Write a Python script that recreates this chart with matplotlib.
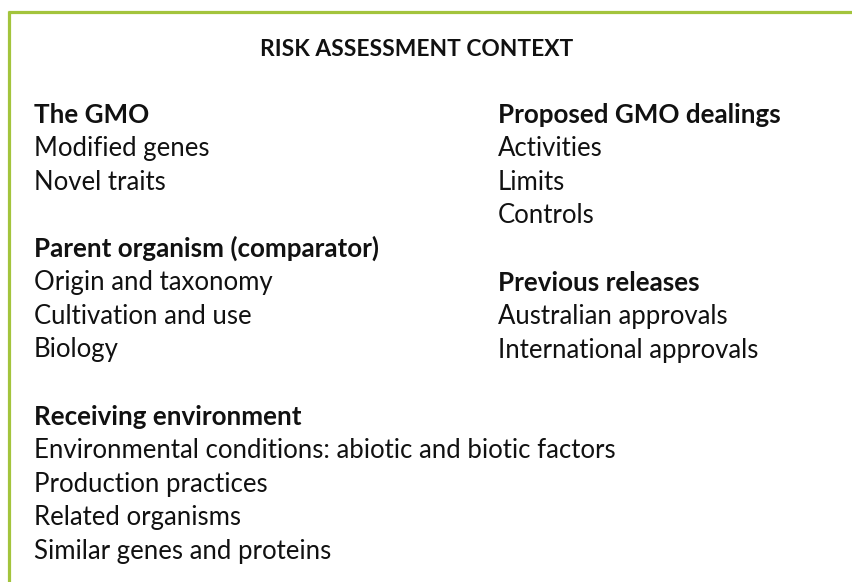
import matplotlib
matplotlib.use("Agg")
import matplotlib.pyplot as plt

title = "RISK ASSESSMENT CONTEXT"
left_sections = [
    ("The GMO", ["Modified genes", "Novel traits"]),
    ("Parent organism (comparator)", ["Origin and taxonomy", "Cultivation and use", "Biology"]),
    ("Receiving environment", ["Environmental conditions: abiotic and biotic factors",
                               "Production practices", "Related organisms",
                               "Similar genes and proteins"]),
]
right_sections = [
    ("Proposed GMO dealings", ["Activities", "Limits", "Controls"]),
    ("Previous releases", ["Australian approvals", "International approvals"]),
]

W, H = 852, 582
FONT = "Lato"
fig = plt.figure(figsize=(W / 100, H / 100), dpi=100)
ax = fig.add_axes([0, 0, 1, 1])
ax.set_xlim(0, W)
ax.set_ylim(H, 0)
ax.axis("off")

renderer = fig.canvas.get_renderer()


def fit_size(text, weight, target_px):
    t = ax.text(0, 0, text, fontsize=10, fontweight=weight, family=FONT)
    w = t.get_window_extent(renderer=renderer).width
    t.remove()
    return 10 * target_px / w


reg_size = fit_size("Environmental conditions: abiotic and biotic factors", "normal", 582)
bold_size = fit_size("Parent organism (comparator)", "bold", 345)
title_size = fit_size(title, "bold", 312)

green = "#a3c43c"
ax.plot([8, W], [12, 12], color=green, lw=2.3, solid_capstyle="butt")
ax.plot([9, 9], [11, H], color=green, lw=2.3, solid_capstyle="butt")

ax.text(417, 56, title, fontsize=title_size, fontweight="bold", family=FONT,
        ha="center", va="baseline", color="#111111")

line_h = 33.4


def draw(sections, x, starts):
    for (head, items), y0 in zip(sections, starts):
        ax.text(x, y0, head, fontsize=bold_size, fontweight="bold", family=FONT,
                ha="left", va="baseline", color="#111111")
        for i, it in enumerate(items):
            ax.text(x, y0 + line_h * (i + 1), it, fontsize=reg_size, family=FONT,
                    ha="left", va="baseline", color="#111111")


draw(left_sections, 34, [123, 257, 425])
draw(right_sections, 498, [123, 291])

fig.savefig("out.png", dpi=100, facecolor="white")
